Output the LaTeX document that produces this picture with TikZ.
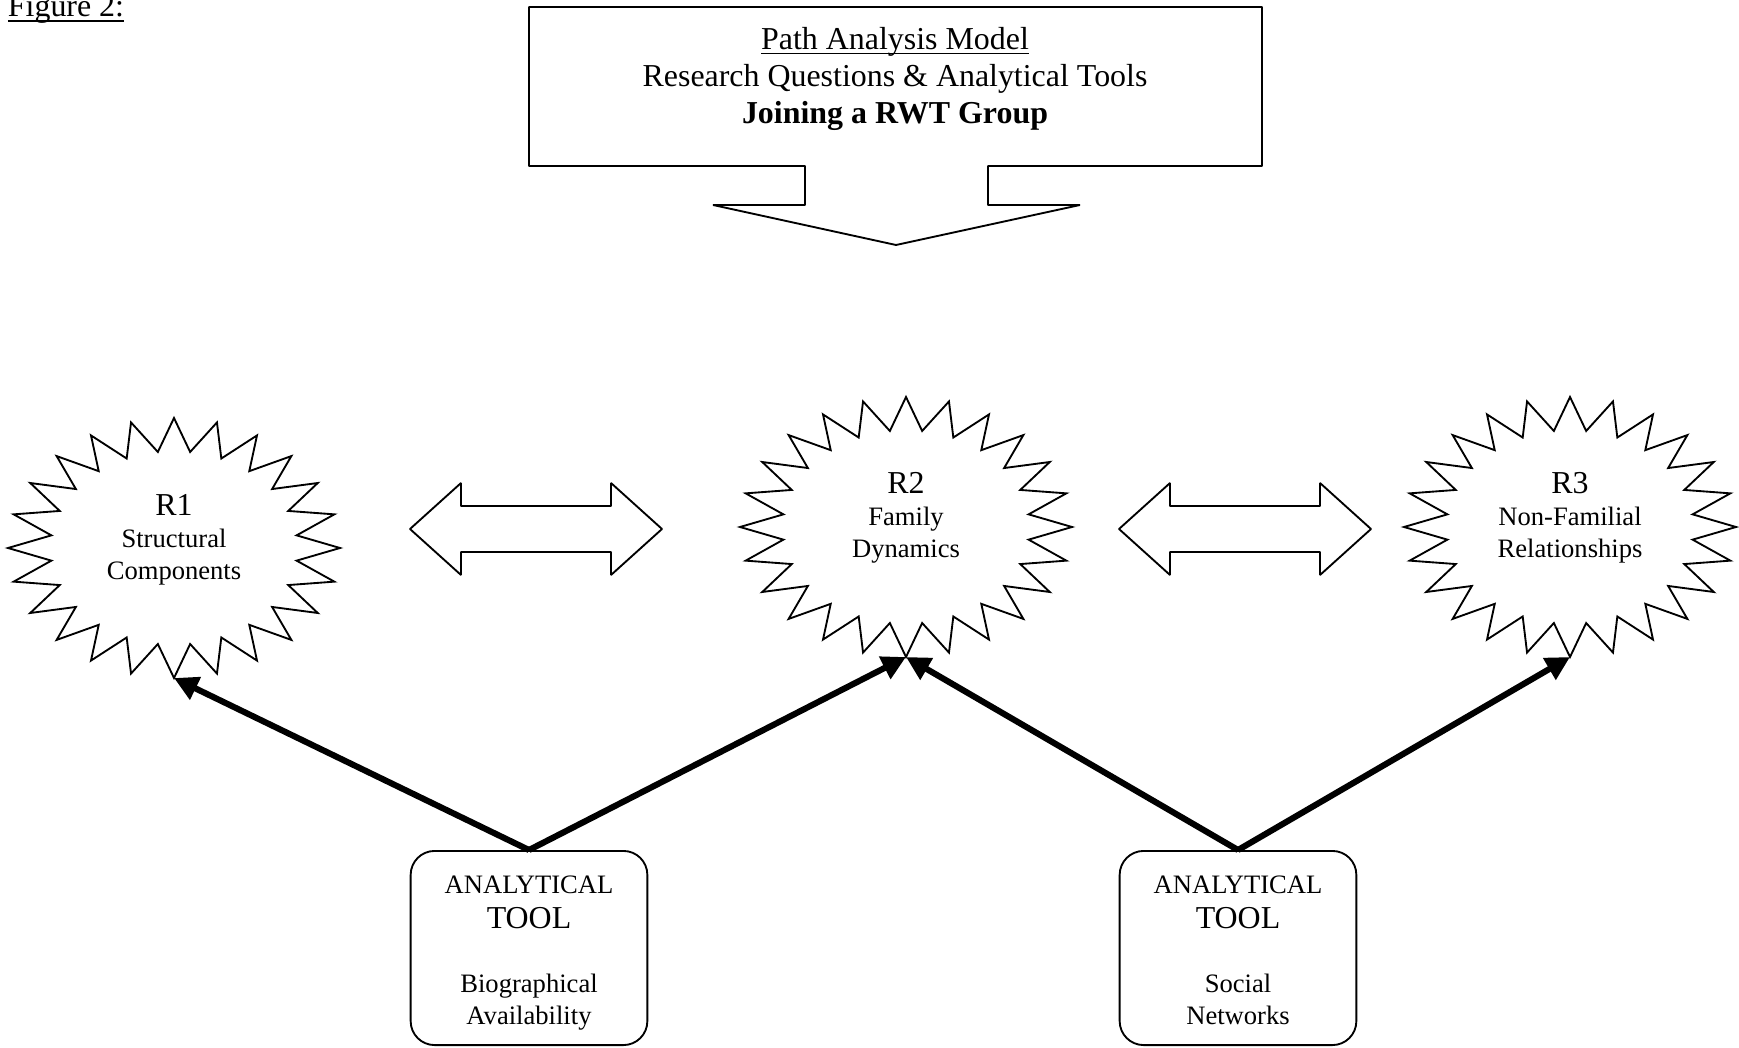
\documentclass[tikz,border=0pt]{standalone}
\usepackage{fontspec}
\setmainfont{Liberation Serif}
\usetikzlibrary{arrows.meta}

\newcommand\ulinetext[1]{\setbox0\hbox{#1}\rlap{\rule[-1.8pt]{\wd0}{0.6pt}}\box0}

\begin{document}
\begin{tikzpicture}[x=0.376pt,y=-0.376pt,line width=0.7pt,
		startext/.style={align=center,font=\fontsize{10}{12}\selectfont},
		toolbox/.style={draw,rounded corners=9pt,minimum width=89pt,minimum height=73pt,align=center,font=\fontsize{10}{12}\selectfont},
		pathline/.style={line width=2.3pt,-{Triangle[length=9pt,width=9pt]}}]
		\useasboundingbox (0,0) rectangle (1739,1048);

		\node[anchor=base west,inner sep=0pt,font=\fontsize{12}{14}\selectfont] (fig) at (7,17) {\ulinetext{Figure 2:}};

		% header box with its down arrow
		\draw[line join=bevel] (805,166) -- (529,166) -- (529,7) -- (1262,7) -- (1262,166) -- (988,166) -- (988,205) -- (1080,205) -- (896,245) -- (713,205) -- (805,205) -- cycle;
		\node[align=center,font=\fontsize{12}{13.9}\selectfont] (head) at (895,79) {\ulinetext{Path Analysis Model}\\Research Questions \& Analytical Tools\\\textbf{Joining a RWT Group}};

		% research question stars
		\foreach \name/\cx/\cy in {r1/174/548,r2/906/527,r3/1570/527} {
			\begin{scope}[shift={(\cx,\cy)}]
				\draw (0:166 and 130) \foreach \i [evaluate=\i as \r using 1-0.255*isodd(\i)] in {1,...,47} { -- ({7.5*\i}:{166*\r} and {130*\r}) } -- cycle;
				\coordinate (\name bot) at (90:166 and 130);
			\end{scope}
		}
		\node[startext] (r1) at (174,540) {{\fontsize{12}{14}\selectfont R1}\\Structural\\Components};
		\node[startext] (r2) at (906,518) {{\fontsize{12}{14}\selectfont R2}\\Family\\Dynamics};
		\node[startext] (r3) at (1570,518) {{\fontsize{12}{14}\selectfont R3}\\Non-Familial\\Relationships};

		% double arrows between the stars
		\foreach \cx in {536,1245} {
			\begin{scope}[shift={(\cx,529)}]
				\draw[line join=bevel] (-126,0) -- (-75,-46) -- (-75,-23) -- (75,-23) -- (75,-46) -- (126,0) -- (75,46) -- (75,23) -- (-75,23) -- (-75,46) -- cycle;
			\end{scope}
		}

		% analytical tools
		\node[toolbox] (bio) at (529,948) {\rule{0pt}{12pt}ANALYTICAL\\[1.3pt]{\fontsize{12}{14}\selectfont TOOL}\\[12pt]Biographical\\Availability\strut};
		\node[toolbox] (soc) at (1238,948) {\rule{0pt}{12pt}ANALYTICAL\\[1.3pt]{\fontsize{12}{14}\selectfont TOOL}\\[12pt]Social\\Networks\strut};

		\draw[pathline] (bio.north) -- (r1bot);
		\draw[pathline] (bio.north) -- (r2bot);
		\draw[pathline] (soc.north) -- (r2bot);
		\draw[pathline] (soc.north) -- (r3bot);
	\end{tikzpicture}
\end{document}
